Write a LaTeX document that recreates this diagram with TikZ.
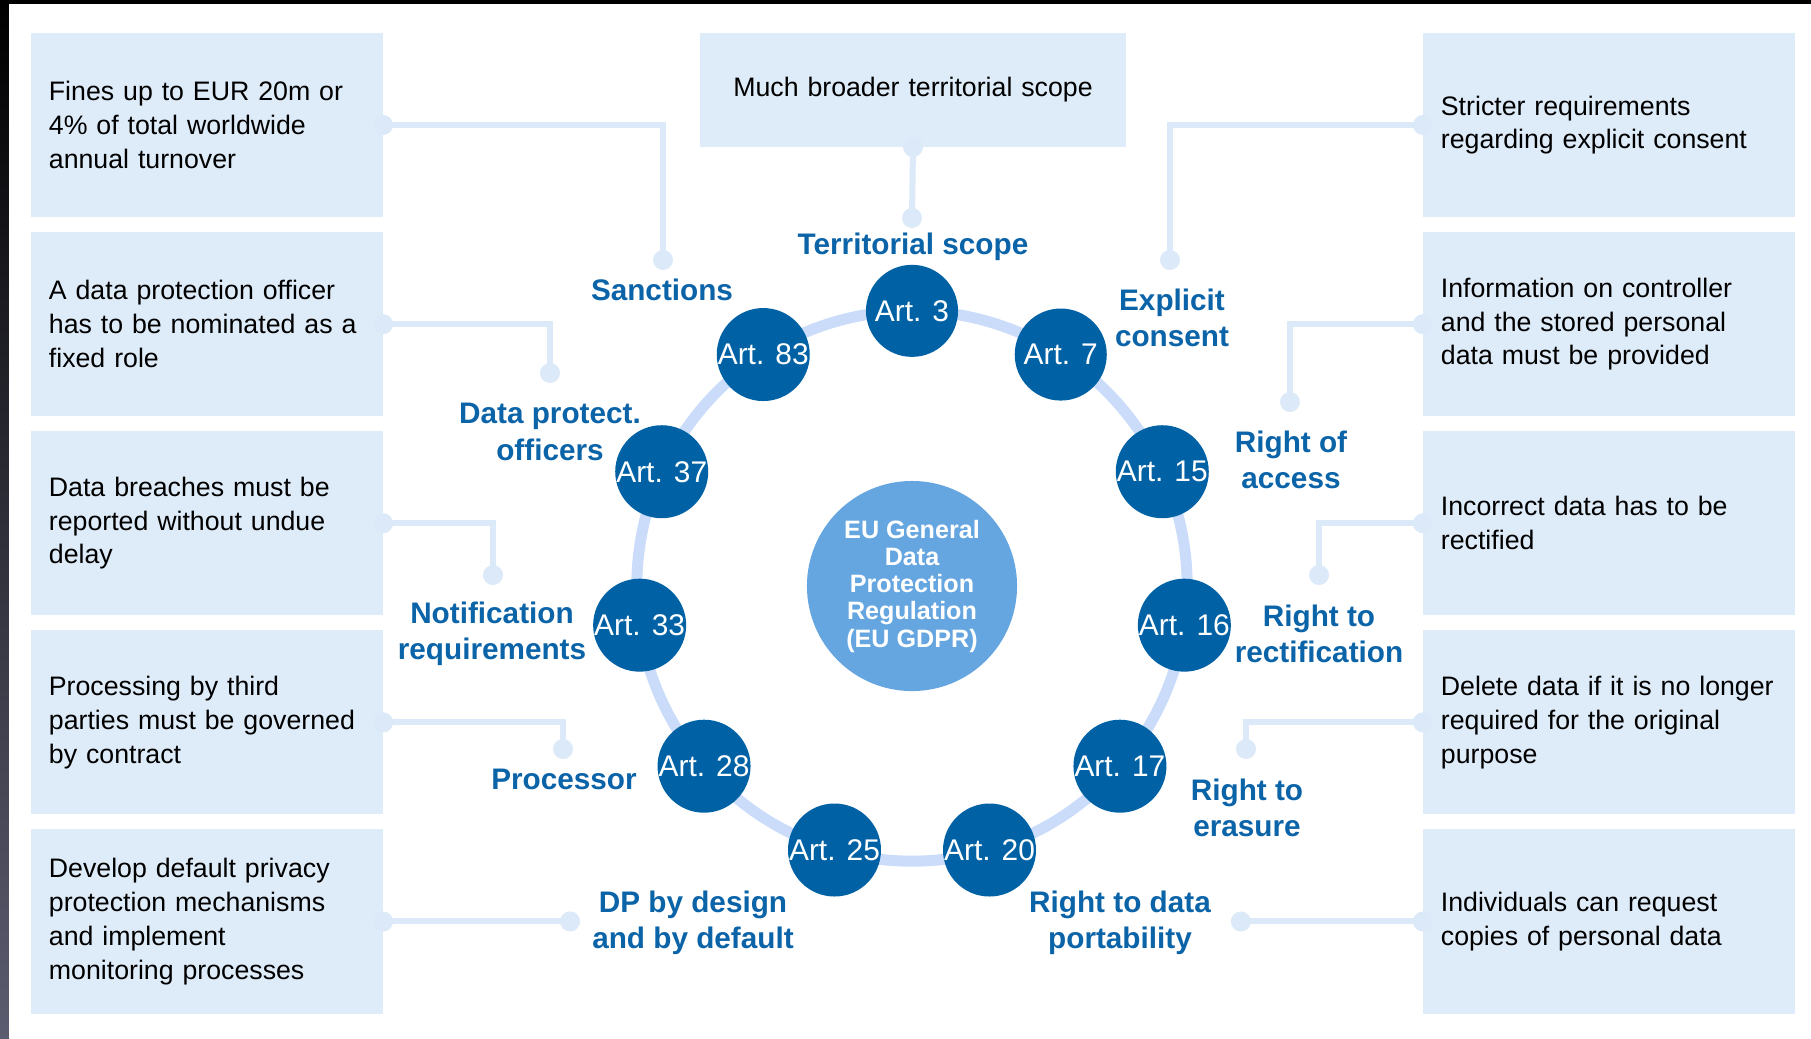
\documentclass[tikz,border=0pt]{standalone}
\usepackage{fontspec}
\setmainfont{Liberation Sans}
\usetikzlibrary
  {
    positioning,              % place nodes relative to other nodes
    calc,                     % points on the ring
  }

\definecolor{artblue}{HTML}{0062A5}
\definecolor{lblblue}{HTML}{0B63A8}
\definecolor{ringblue}{HTML}{CADCFA}
\definecolor{linkblue}{HTML}{DCE9F8}
\definecolor{boxblue}{HTML}{DEEBF8}
\definecolor{hubblue}{HTML}{66A6E0}
\definecolor{edgegray}{HTML}{5C5C70}

\begin{document}
\begin{tikzpicture}
    [
      x=0.01cm, y=-0.01cm,
      node distance=0.15cm,
      infobox/.style=
        {
          rectangle,
          fill=boxblue,
          minimum width=3.52cm,
          minimum height=1.84cm,
          text width=3.16cm,
          inner xsep=0.18cm,
          inner ysep=0pt,
          outer sep=0pt,
          align=left,
          font=\fontsize{7.6}{9.6}\selectfont,
        },
      wide/.style=
        {
          minimum width=3.72cm,
          text width=3.36cm,
        },
      article/.style=
        {
          circle,
          fill=artblue,
          text=white,
          minimum size=0.92cm,
          inner sep=0pt,
          font=\fontsize{8.5}{10}\selectfont,
        },
      hub/.style=
        {
          circle,
          fill=hubblue,
          text=white,
          minimum size=2.1cm,
          inner sep=0pt,
          align=center,
          font=\fontsize{7.15}{7.75}\selectfont\bfseries,
        },
      topic/.style=
        {
          text=lblblue,
          inner sep=0pt,
          align=center,
          font=\fontsize{8.45}{10.3}\selectfont\bfseries,
        },
      ring/.style={draw=ringblue, line width=0.11cm},
      link/.style={draw=linkblue, line width=0.06cm},
    ]
    \useasboundingbox (0,0) rectangle (1811,1038);

    % screen edge round the slide
    \fill [black] (0,0) rectangle (1811,1038);
    \shade [top color=black, bottom color=edgegray] (0,0) rectangle (9,1038);
    \fill [white] (9,4) rectangle (1811,1038);

    % boxes on the left
    \node (sanctbox) [infobox] at (207,125)
      {Fines up to EUR 20m or\\4\% of total worldwide\\annual turnover};
    \node (dpobox) [infobox, below=of sanctbox]
      {A data protection officer\\has to be nominated as a\\fixed role};
    \node (notifbox) [infobox, below=of dpobox]
      {Data breaches must be\\reported without undue\\delay};
    \node (procbox) [infobox, below=of notifbox]
      {Processing by third\\parties must be governed\\by contract};
    \node (designbox) [infobox, below=of procbox]
      {Develop default privacy\\protection mechanisms\\and implement\\monitoring processes};

    % boxes on the right
    \node (consentbox) [infobox, wide] at (1609,125)
      {Stricter requirements\\regarding explicit consent};
    \node (accessbox) [infobox, wide, below=of consentbox]
      {Information on controller\\and the stored personal\\data must be provided};
    \node (rectbox) [infobox, wide, below=of accessbox]
      {Incorrect data has to be\\rectified};
    \node (erasebox) [infobox, wide, below=of rectbox]
      {Delete data if it is no longer\\required for the original\\purpose};
    \node (portbox) [infobox, wide, below=of erasebox]
      {Individuals can request\\copies of personal data};

    % box on top
    \node (scopebox) [infobox, minimum width=4.26cm, minimum height=1.14cm,
                      text width=3.9cm, align=center] at (913,90)
      {Much broader territorial scope};

    % ring of articles
    \node (gdpr) [hub] at (912,586)
      {EU General\\Data\\Protection\\Regulation\\(EU GDPR)};
    \draw [ring] (gdpr.center) circle (2.75cm);
    \foreach \art [count=\k from 0] in {3,7,15,16,17,20,25,28,33,37,83}
      \node (art\art) [article] at ($(gdpr.center)+({90-\k*360/11}:2.75cm)$)
        {Art. \art};

    % topics
    \node (scopelbl) [topic] at (913,247) {Territorial scope};
    \node (sanctlbl) [topic] at (662,290) {Sanctions};
    \node (consentlbl) [topic] at (1172,318) {Explicit\\consent};
    \node (accesslbl) [topic] at (1291,460) {Right of\\access};
    \node (rectlbl) [topic] at (1319,634) {Right to\\rectification};
    \node (eraselbl) [topic] at (1247,808) {Right to\\erasure};
    \node (portlbl) [topic] at (1120,923) {Right to data\\portability};
    \node (designlbl) [topic] at (693,923) {DP by design\\and by default};
    \node (proclbl) [topic] at (564,779) {Processor};
    \node (notiflbl) [topic] at (492,634) {Notification\\requirements};
    \node (dpolbl) [topic] at (550,432) {Data protect.\\officers};

    % connectors
    \coordinate (scopedot) at (912,218);
    \coordinate (sanctdot) at (663,260);
    \coordinate (consentdot) at (1170,260);
    \coordinate (dpodot) at (550,373);
    \coordinate (accessdot) at (1290,402);
    \coordinate (notifdot) at (493,575);
    \coordinate (rectdot) at (1319,575);
    \coordinate (procdot) at (563,749);
    \coordinate (erasedot) at (1246,749);
    \coordinate (designdot) at ($(designbox.east)+(187,0)$);
    \coordinate (portdot) at ($(portbox.west)+(-182,0)$);

    \draw [link] (scopebox.south) -- (scopedot);
    \draw [link] (sanctbox.east) -| (sanctdot);
    \draw [link] (consentbox.west) -| (consentdot);
    \draw [link] (dpobox.east) -| (dpodot);
    \draw [link] (accessbox.west) -| (accessdot);
    \draw [link] (notifbox.east) -| (notifdot);
    \draw [link] (rectbox.west) -| (rectdot);
    \draw [link] (procbox.east) -| (procdot);
    \draw [link] (erasebox.west) -| (erasedot);
    \draw [link] (designbox.east) -- (designdot);
    \draw [link] (portbox.west) -- (portdot);

    \foreach \p in {scopebox.south, scopedot, sanctbox.east, sanctdot,
                    consentbox.west, consentdot, dpobox.east, dpodot,
                    accessbox.west, accessdot, notifbox.east, notifdot,
                    rectbox.west, rectdot, procbox.east, procdot,
                    erasebox.west, erasedot, designbox.east, designdot,
                    portbox.west, portdot}
      \fill [linkblue] (\p) circle (0.1cm);
\end{tikzpicture}
\end{document}
